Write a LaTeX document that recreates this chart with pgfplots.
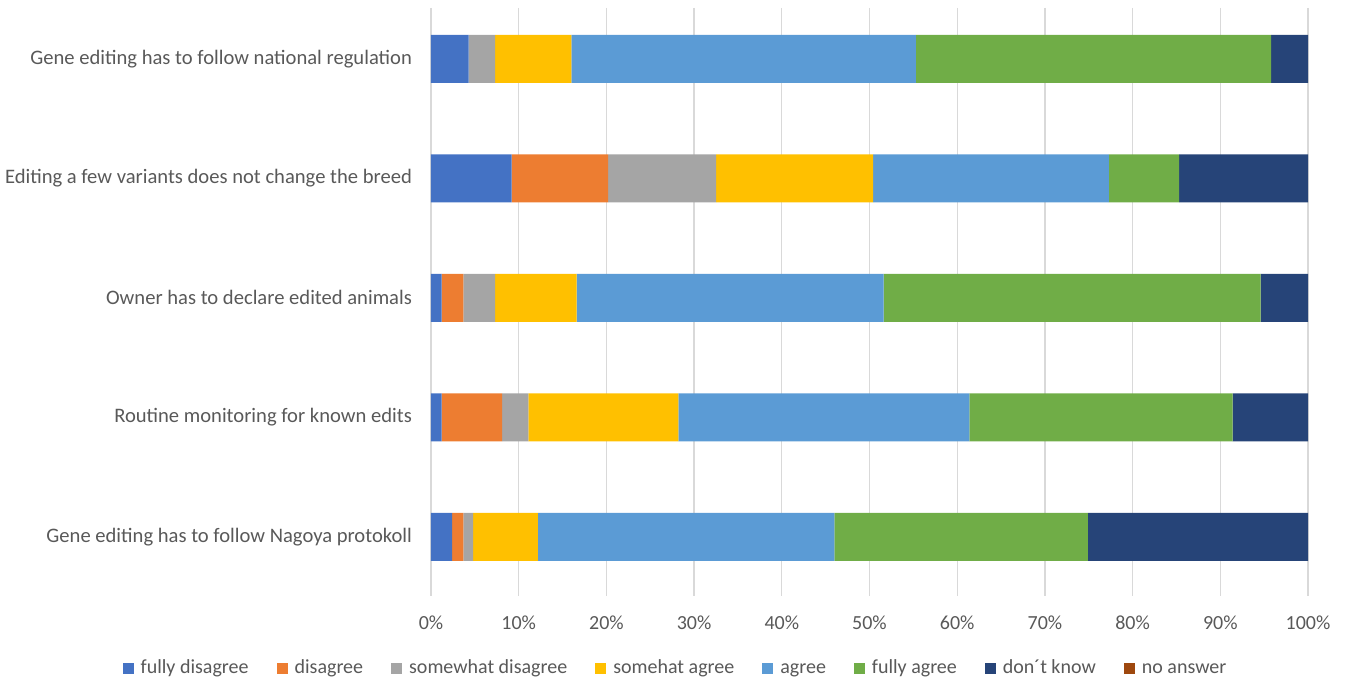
\documentclass[border=0pt]{standalone}
\usepackage{fontspec}
\setmainfont{Carlito}
\usepackage{pgfplots}
\pgfplotsset{compat=1.18}
\definecolor{cFD}{HTML}{4472C4}
\definecolor{cD}{HTML}{ED7D31}
\definecolor{cSD}{HTML}{A5A5A5}
\definecolor{cSA}{HTML}{FFC000}
\definecolor{cA}{HTML}{5B9BD5}
\definecolor{cFA}{HTML}{70AD47}
\definecolor{cDK}{HTML}{264478}
\definecolor{cNA}{HTML}{9E480E}
\definecolor{txt}{HTML}{595959}
\definecolor{grd}{HTML}{D9D9D9}
\begin{document}
\begin{tikzpicture}
\path[use as bounding box] (-215.5pt,-41pt) rectangle (458.5pt,298pt);
\begin{axis}[
  at={(0,0)}, anchor=south west,
  scale only axis, width=438.5pt, height=294pt,
  xbar stacked, bar width=24pt,
  xmin=0, xmax=100,
  ymin=-0.425, ymax=4.494, y dir=reverse,
  axis line style={draw=none},
  xmajorgrids, grid style={grd, line width=0.6pt},
  major tick length=0pt,
  xtick={0,10,...,100},
  xticklabel={\pgfmathprintnumber{\tick}\%},
  ytick={0,1,2,3,4},
  yticklabels={Gene editing has to follow national regulation,
    Editing a few variants does not change the breed,
    Owner has to declare edited animals,
    Routine monitoring for known edits,
    Gene editing has to follow Nagoya protokoll},
  /pgf/number format/assume math mode=true,
  tick label style={font=\fontsize{10pt}{12pt}\selectfont, text=txt},
  xticklabel style={yshift=-6.5pt},
  yticklabel style={xshift=-6pt, font=\fontsize{10.3pt}{12pt}\selectfont},
  legend columns=8,
  legend style={at={(0.2794,0)}, anchor=center, yshift=-36pt, draw=none,
    font=\fontsize{10pt}{12pt}\selectfont, text=txt,
    nodes={inner sep=1.5pt, text height=7pt, text depth=2pt},
    /tikz/every odd column/.append style={column sep=2pt},
    /tikz/every even column/.append style={column sep=12.5pt}},
  legend image code/.code={\fill[#1] (0pt,-2.75pt) rectangle (5.5pt,2.75pt);},
  every axis plot/.append style={draw=none},
]
\addplot[fill=cFD] coordinates {(4.3,0) (9.2,1) (1.2,2) (1.2,3) (2.4,4)};
\addplot[fill=cD] coordinates {(0,0) (11.0,1) (2.5,2) (6.9,3) (1.3,4)};
\addplot[fill=cSD] coordinates {(3.0,0) (12.3,1) (3.6,2) (3.0,3) (1.1,4)};
\addplot[fill=cSA] coordinates {(8.7,0) (17.9,1) (9.3,2) (17.1,3) (7.4,4)};
\addplot[fill=cA] coordinates {(39.3,0) (26.9,1) (35.0,2) (33.2,3) (33.8,4)};
\addplot[fill=cFA] coordinates {(40.5,0) (8.0,1) (43.0,2) (30.0,3) (28.9,4)};
\addplot[fill=cDK] coordinates {(4.2,0) (14.7,1) (5.4,2) (8.6,3) (25.1,4)};
\addplot[fill=cNA] coordinates {(0,0) (0,1) (0,2) (0,3) (0,4)};
\legend{fully disagree, disagree, somewhat disagree, somehat agree, agree, fully agree, don´t know, no answer}
\end{axis}
\end{tikzpicture}
\end{document}
